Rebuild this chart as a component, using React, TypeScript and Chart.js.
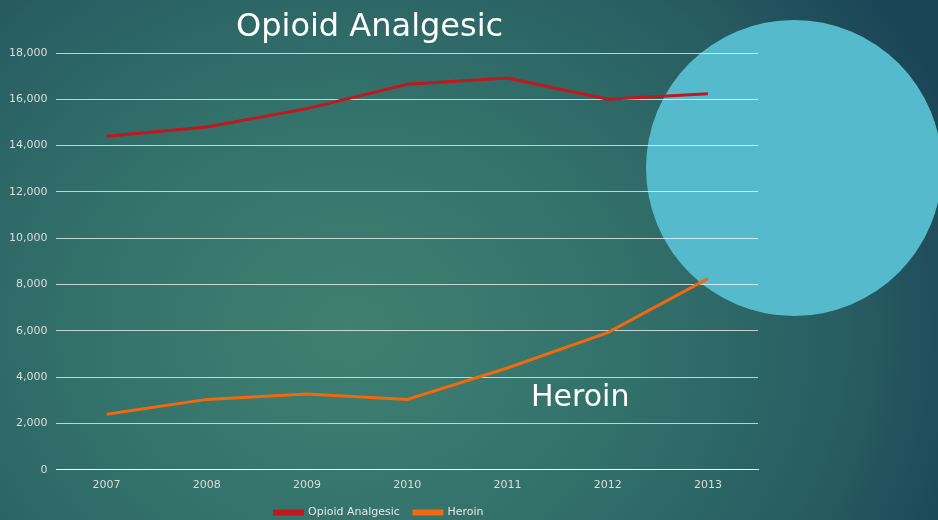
import React, { useEffect, useRef } from "react";
import { Chart, registerables } from "chart.js";

Chart.register(...registerables);

const years = ["2007", "2008", "2009", "2010", "2011", "2012", "2013"];
const opioidAnalgesic = [14408, 14800, 15597, 16651, 16917, 16007, 16235];
const heroin = [2399, 3041, 3278, 3036, 4397, 5925, 8257];
const yMax = 18000;
const yStep = 2000;

const FONT = "'DejaVu Sans', sans-serif";

export default function App() {
  const ref = useRef<HTMLCanvasElement | null>(null);

  useEffect(() => {
    document.body.style.margin = "0";
    const ctx = ref.current!.getContext("2d")!;
    const chart = new Chart(ctx, {
      type: "line",
      data: {
        labels: years,
        datasets: [
          {
            label: "Opioid Analgesic",
            data: opioidAnalgesic,
            borderColor: "#c0181c",
            backgroundColor: "#c0181c",
            borderWidth: 3,
            pointRadius: 0,
            tension: 0,
          },
          {
            label: "Heroin",
            data: heroin,
            borderColor: "#f0690f",
            backgroundColor: "#f0690f",
            borderWidth: 3,
            pointRadius: 0,
            tension: 0,
          },
        ],
      },
      options: {
        animation: false,
        responsive: false,
        layout: { padding: { left: 0, right: 180, top: 53, bottom: 0 } },
        plugins: {
          tooltip: { enabled: false },
          legend: {
            position: "bottom",
            labels: {
              color: "#e6e6e6",
              font: { family: FONT, size: 11 },
              boxWidth: 28,
              boxHeight: 3,
              padding: 14,
            },
          },
        },
        scales: {
          x: {
            offset: true,
            grid: { display: false },
            border: { display: true, color: "#ffffff", width: 1 },
            ticks: { color: "#dcdcdc", font: { family: FONT, size: 11 }, padding: 1 },
          },
          y: {
            min: 0,
            max: yMax,
            grid: {
              color: (c: any) => (c.tick && c.tick.value === 0 ? "#ffffff" : "rgba(255,255,255,0.7)"),
              drawTicks: false,
            },
            border: { display: false },
            ticks: {
              stepSize: yStep,
              color: "#dcdcdc",
              font: { family: FONT, size: 11 },
              padding: 9,
              callback: (v: any) => Number(v).toLocaleString("en-US"),
            },
          },
        },
      },
    });
    return () => chart.destroy();
  }, []);

  return (
    <div
      style={{
        position: "fixed",
        left: 0,
        top: 0,
        width: 938,
        height: 520,
        overflow: "hidden",
        background:
          "radial-gradient(ellipse 660px 560px at 350px 330px, #3f8072 0%, #33726b 40%, #285d62 75%, #1a4456 100%)",
        fontFamily: FONT,
      }}
    >
      <div
        style={{
          position: "absolute",
          left: 646,
          top: 20,
          width: 296,
          height: 296,
          borderRadius: "50%",
          background: "#55bbcc",
        }}
      />
      <canvas ref={ref} width={938} height={528} style={{ position: "absolute", left: 0, top: 0 }} />
      <div
        style={{
          position: "absolute",
          left: 236,
          top: 5,
          fontSize: 32,
          color: "#ffffff",
          whiteSpace: "nowrap",
          lineHeight: "40px",
        }}
      >
        Opioid Analgesic
      </div>
      <div
        style={{
          position: "absolute",
          left: 531,
          top: 376,
          fontSize: 30,
          color: "#ffffff",
          whiteSpace: "nowrap",
          lineHeight: "40px",
        }}
      >
        Heroin
      </div>
    </div>
  );
}
